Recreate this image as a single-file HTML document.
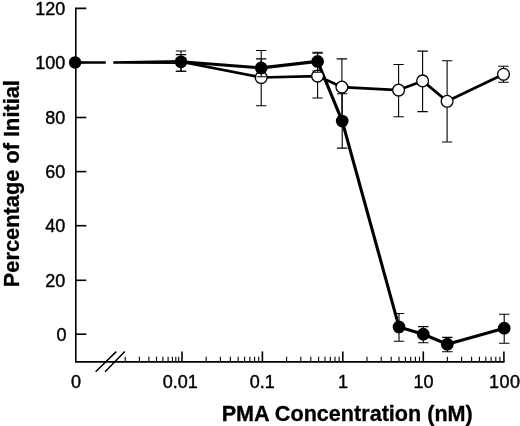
<!DOCTYPE html><html><head><meta charset="utf-8"><title>PMA Concentration</title>
<style>html,body{margin:0;padding:0;background:#fff}svg{display:block}text{font-family:"Liberation Sans",sans-serif;fill:#000}</style></head><body>
<svg width="520" height="426" viewBox="0 0 520 426">
<rect width="520" height="426" fill="#fff"/>
<g stroke="#000" stroke-width="1.6" fill="none" stroke-linecap="butt">
<path d="M86.3 8.4H75.8V361.9H504.4"/>
<path d="M75.8 62.5h10.5"/>
<path d="M75.8 117.5h10.5"/>
<path d="M75.8 171.6h10.5"/>
<path d="M75.8 225.7h10.5"/>
<path d="M75.8 280.3h10.5"/>
<path d="M75.8 334.2h10.5"/>
<path d="M182.0 361.9v-10.5"/>
<path d="M262.4 361.9v-10.5"/>
<path d="M342.8 361.9v-10.5"/>
<path d="M423.3 361.9v-10.5"/>
<path d="M503.9 361.9v-10.5"/>
</g>
<g stroke="#000" stroke-width="1.1" fill="none">
<path d="M125.2 361.9v-5.2"/>
<path d="M139.4 361.9v-5.2"/>
<path d="M148.9 361.9v-5.2"/>
<path d="M156.5 361.9v-5.2"/>
<path d="M162.9 361.9v-5.2"/>
<path d="M168.1 361.9v-5.2"/>
<path d="M172.4 361.9v-5.2"/>
<path d="M175.8 361.9v-5.2"/>
<path d="M178.7 361.9v-5.2"/>
<path d="M206.2 361.9v-5.2"/>
<path d="M220.4 361.9v-5.2"/>
<path d="M230.4 361.9v-5.2"/>
<path d="M238.2 361.9v-5.2"/>
<path d="M244.6 361.9v-5.2"/>
<path d="M249.9 361.9v-5.2"/>
<path d="M254.6 361.9v-5.2"/>
<path d="M258.7 361.9v-5.2"/>
<path d="M286.6 361.9v-5.2"/>
<path d="M300.8 361.9v-5.2"/>
<path d="M310.8 361.9v-5.2"/>
<path d="M318.6 361.9v-5.2"/>
<path d="M325.0 361.9v-5.2"/>
<path d="M330.3 361.9v-5.2"/>
<path d="M335.0 361.9v-5.2"/>
<path d="M339.1 361.9v-5.2"/>
<path d="M367.0 361.9v-5.2"/>
<path d="M381.2 361.9v-5.2"/>
<path d="M391.2 361.9v-5.2"/>
<path d="M399.0 361.9v-5.2"/>
<path d="M405.4 361.9v-5.2"/>
<path d="M410.7 361.9v-5.2"/>
<path d="M415.4 361.9v-5.2"/>
<path d="M419.5 361.9v-5.2"/>
<path d="M447.4 361.9v-5.2"/>
<path d="M461.6 361.9v-5.2"/>
<path d="M471.6 361.9v-5.2"/>
<path d="M479.4 361.9v-5.2"/>
<path d="M485.8 361.9v-5.2"/>
<path d="M491.1 361.9v-5.2"/>
<path d="M495.8 361.9v-5.2"/>
<path d="M499.9 361.9v-5.2"/>
</g>
<g stroke="#000" stroke-width="1.5"><path d="M95.6 371.8L116.3 351.6M105.1 371.8L124.8 351.6"/></g>
<g stroke="#000" stroke-width="1.1" fill="none">
<path d="M181 51V71.3M175.8 51h10.4M175.8 71.3h10.4"/>
<path d="M261.2 50.5V105.8M256.0 50.5h10.4M256.0 105.8h10.4"/>
<path d="M317.6 53.2V98M312.40000000000003 53.2h10.4M312.40000000000003 98h10.4"/>
<path d="M341.9 58.9V114.7M336.7 58.9h10.4"/>
<path d="M398.6 64.5V116.7M393.40000000000003 64.5h10.4M393.40000000000003 116.7h10.4"/>
<path d="M422.6 51.1V111.6M417.40000000000003 51.1h10.4M417.40000000000003 111.6h10.4"/>
<path d="M447.1 60.7V142M441.90000000000003 60.7h10.4M441.90000000000003 142h10.4"/>
<path d="M503.5 66.3V82.3M498.3 66.3h10.4M498.3 82.3h10.4"/>
<path d="M181 54.6V71.3M175.8 54.6h10.4M175.8 71.3h10.4"/>
<path d="M261.2 58.9V76.8M256.0 58.9h10.4M256.0 76.8h10.4"/>
<path d="M317.6 52.2V71.0M312.40000000000003 52.2h10.4M312.40000000000003 71.0h10.4"/>
<path d="M342.2 93.7V148.1M337.0 93.7h10.4M337.0 148.1h10.4"/>
<path d="M399.0 313.5V341.2M393.8 313.5h10.4M393.8 341.2h10.4"/>
<path d="M423.3 326.6V342.8M418.1 326.6h10.4M418.1 342.8h10.4"/>
<path d="M447.3 337.4V351.8M442.1 337.4h10.4M442.1 351.8h10.4"/>
<path d="M504.2 314.2V343.2M499.0 314.2h10.4M499.0 343.2h10.4"/>
</g>
<g stroke="#000" stroke-width="2.5" fill="none"><path d="M75.3 62.5H105.8"/><path d="M113.3 62.5L181 61.2M113.3 62.5L181 62.7" stroke-width="2.5"/></g>
<g stroke="#000" stroke-width="3.1" fill="none" stroke-linejoin="round">
<path stroke-width="2.7" d="M181 61.8 L261.2 77.5 L317.6 76.1 L341.9 87.1 L398.6 90.1 L422.6 80.9 L447.1 101.3 L503.5 74.3"/>
<path d="M181 61.8 L261.2 67.9 L317.6 61.4 L342.2 121.1 L399.0 326.9 L423.3 334.2 L447.3 344.2 L504.2 328.2"/>
</g>
<g stroke="#000" stroke-width="1.3" fill="#fff">
<circle cx="261.2" cy="77.5" r="5.9"/>
<circle cx="317.6" cy="76.1" r="5.9"/>
<circle cx="341.9" cy="87.1" r="5.9"/>
<circle cx="398.6" cy="90.1" r="5.9"/>
<circle cx="422.6" cy="80.9" r="5.9"/>
<circle cx="447.1" cy="101.3" r="5.9"/>
<circle cx="503.5" cy="74.3" r="5.9"/>
</g>
<g stroke="#000" stroke-width="1.1" fill="none">
<path d="M261.2 71V76.8M256.5 76.8h9.4"/>
<path d="M317.6 67V72.2M313 72.2h9.2"/>
</g>
<g fill="#000">
<circle cx="75.1" cy="62.5" r="6.2"/>
<circle cx="181" cy="61.8" r="6.35"/>
<circle cx="261.2" cy="67.9" r="6.35"/>
<circle cx="317.6" cy="61.4" r="6.35"/>
<circle cx="342.2" cy="121.1" r="6.35"/>
<circle cx="399.0" cy="326.9" r="6.35"/>
<circle cx="423.3" cy="334.2" r="6.35"/>
<circle cx="447.3" cy="344.2" r="6.35"/>
<circle cx="504.2" cy="328.2" r="6.35"/>
</g>
<g font-size="18px" text-anchor="end" stroke="#000" stroke-width="0.4">
<text x="65.3" y="14.9">120</text>
<text x="65.3" y="69.0">100</text>
<text x="65.3" y="124.0">80</text>
<text x="65.3" y="178.1">60</text>
<text x="65.3" y="232.2">40</text>
<text x="65.3" y="286.8">20</text>
<text x="66.4" y="340.7">0</text>
</g>
<g font-size="18px" text-anchor="middle" stroke="#000" stroke-width="0.4">
<text x="75.9" y="388.3">0</text>
<text x="180.3" y="388.3">0.01</text>
<text x="262.2" y="388.3">0.1</text>
<text x="343.0" y="388.3">1</text>
<text x="423.6" y="388.3">10</text>
</g>
<text font-size="18px" stroke="#000" stroke-width="0.4" x="488.9" y="388.3" letter-spacing="0.5">100</text>
<text font-size="21.6px" font-weight="bold" stroke="#000" stroke-width="0.3" x="221.7" y="420.9">PMA Concentration (nM)</text>
<text font-size="21.8px" font-weight="bold" stroke="#000" stroke-width="0.3" transform="translate(18.5 287.2) rotate(-90)">Percentage of Initial</text>
</svg></body></html>
